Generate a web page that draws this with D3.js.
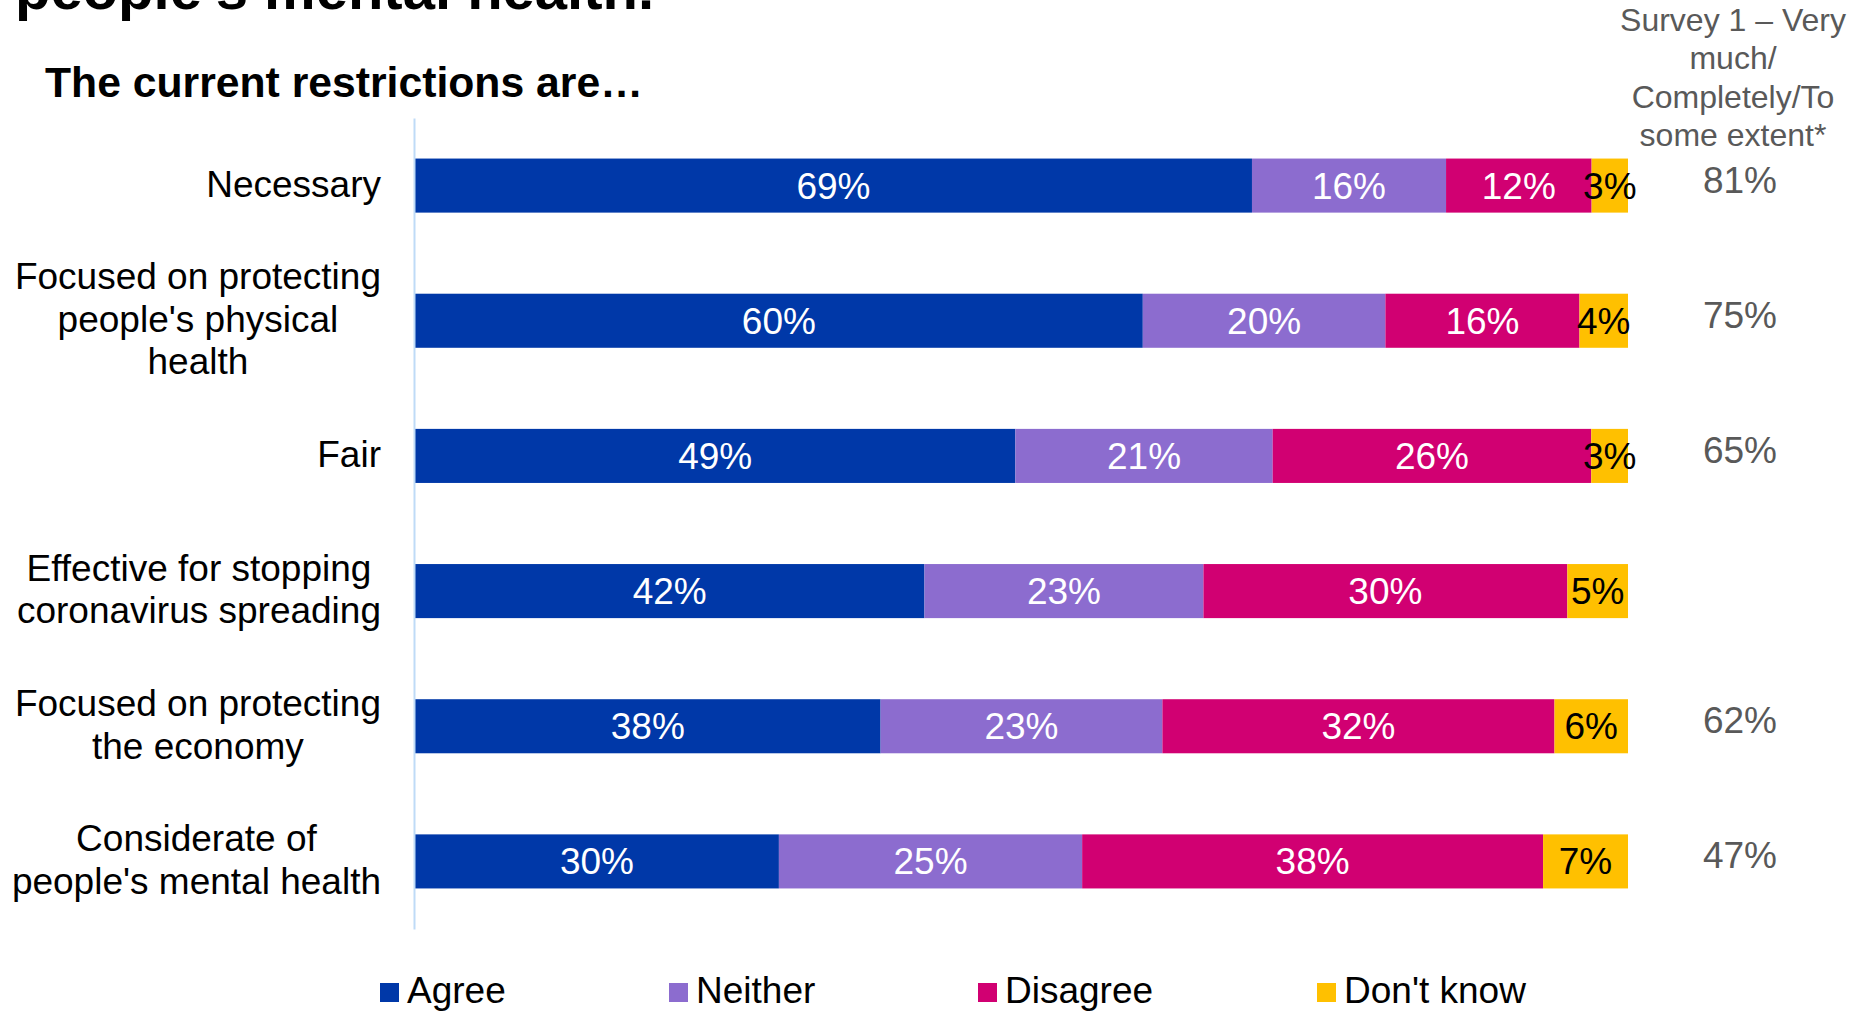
<!DOCTYPE html>
<html>
<head>
<meta charset="utf-8">
<script src="https://cdn.jsdelivr.net/npm/d3@7"></script>
<style>
  html, body { margin: 0; padding: 0; background: #fff; }
  svg { display: block; font-family: "Liberation Sans", Arial, sans-serif; }
</style>
</head>
<body>
<svg id="chart" width="1851" height="1012"></svg>
<script>
// ---- Data ----
const categories = [
  "Necessary",
  "Focused on protecting\npeople's physical\nhealth",
  "Fair",
  "Effective for stopping\ncoronavirus spreading",
  "Focused on protecting\nthe economy",
  "Considerate of\npeople's mental health"
];
const seriesNames = ["Agree", "Neither", "Disagree", "Don't know"];
const agree     = [69, 60, 49, 42, 38, 30];
const neither   = [16, 20, 21, 23, 23, 25];
const disagree  = [12, 16, 26, 30, 32, 38];
const dontKnow  = [3, 4, 3, 5, 6, 7];
const survey1   = [81, 75, 65, null, 62, 47];
const survey1Header = ["Survey 1 \u2013 Very", "much/", "Completely/To", "some extent*"];
const titleTail = "people's mental health.";
const subtitle = "The current restrictions are\u2026";

const seriesColors = ["#0038A8", "#8C6CCF", "#D10072", "#FFC000"];
const labelColors  = ["#ffffff", "#ffffff", "#ffffff", "#000000"];

// ---- Build table ----
const values = [agree, neither, disagree, dontKnow];
const rows = categories.map((c, i) => {
  const r = { category: c };
  seriesNames.forEach((s, k) => r[s] = values[k][i]);
  return r;
});

const svg = d3.select("#chart");
const FONT = 37;

// ---- Scales ----
const x = d3.scaleLinear().domain([0, 1]).range([415, 1628]);
const y = d3.scaleBand().domain(categories).range([118, 929]).paddingInner(0.6).paddingOuter(0.3);
const color = d3.scaleOrdinal().domain(seriesNames).range(seriesColors);

// ---- Titles ----
svg.append("text")
  .attr("x", 15).attr("y", 9)
  .attr("font-size", 58).attr("font-weight", "bold").attr("fill", "#000")
  .text(titleTail);
svg.append("text")
  .attr("x", 45).attr("y", 97)
  .attr("font-size", 42.7).attr("font-weight", "bold").attr("fill", "#000")
  .text(subtitle);

// ---- Stack (normalized to 100%) ----
const stack = d3.stack().keys(seriesNames).offset(d3.stackOffsetExpand);
const stacked = stack(rows);

const layers = svg.append("g").selectAll("g.layer")
  .data(stacked).join("g")
  .attr("class", "layer")
  .attr("fill", d => color(d.key));

layers.selectAll("rect")
  .data(d => d.map(p => ({ p, key: d.key })))
  .join("rect")
  .attr("x", d => x(d.p[0]))
  .attr("y", d => y(d.p.data.category))
  .attr("width", d => x(d.p[1]) - x(d.p[0]))
  .attr("height", y.bandwidth());

// value labels
stacked.forEach((layer, k) => {
  svg.append("g").selectAll("text")
    .data(layer).join("text")
    .attr("x", d => (x(d[0]) + x(d[1])) / 2)
    .attr("y", d => y(d.data.category) + y.bandwidth() / 2 + 13)
    .attr("text-anchor", "middle")
    .attr("font-size", FONT)
    .attr("fill", labelColors[k])
    .text(d => d.data[layer.key] + "%");
});

// ---- Axis ----
const axis = svg.append("g")
  .attr("transform", "translate(414,0)")
  .call(d3.axisLeft(y).tickSize(0).tickSizeOuter(0).tickFormat(""));
axis.select(".domain").attr("stroke", "#BFDBF7").attr("stroke-width", 2);

// ---- Category labels (multi-line, centred, block right-aligned) ----
const LINE_H = 42.5;
const LABEL_RIGHT = 381;
categories.forEach(cat => {
  const lines = cat.split("\n");
  const cy = y(cat) + y.bandwidth() / 2;
  const t = svg.append("text")
    .attr("font-size", FONT).attr("fill", "#000")
    .attr("text-anchor", "middle");
  lines.forEach((ln, i) => {
    t.append("tspan")
      .attr("y", cy + 11 + (i - (lines.length - 1) / 2) * LINE_H)
      .text(ln);
  });
  let maxW = 0;
  t.selectAll("tspan").each(function () {
    maxW = Math.max(maxW, this.getComputedTextLength());
  });
  t.selectAll("tspan").attr("x", LABEL_RIGHT - maxW / 2);
});

// ---- Survey 1 column ----
svg.append("g").selectAll("text")
  .data(survey1Header).join("text")
  .attr("x", 1733)
  .attr("y", (d, i) => 31 + i * 38.3)
  .attr("text-anchor", "middle")
  .attr("font-size", 32)
  .attr("fill", "#595959")
  .text(d => d);

svg.append("g").selectAll("text")
  .data(categories.map((c, i) => ({ c, v: survey1[i] })).filter(d => d.v !== null))
  .join("text")
  .attr("x", 1740)
  .attr("y", d => y(d.c) + y.bandwidth() / 2 + 7)
  .attr("text-anchor", "middle")
  .attr("font-size", FONT)
  .attr("fill", "#595959")
  .text(d => d.v + "%");

// ---- Legend ----
const legendX = [380, 669, 978, 1317];
const leg = svg.append("g").selectAll("g")
  .data(seriesNames).join("g")
  .attr("transform", (d, i) => `translate(${legendX[i]},983)`);
leg.append("rect")
  .attr("width", 19).attr("height", 19)
  .attr("fill", d => color(d));
leg.append("text")
  .attr("x", 27).attr("y", 20)
  .attr("font-size", FONT).attr("fill", "#000")
  .text(d => d);
</script>
</body>
</html>
